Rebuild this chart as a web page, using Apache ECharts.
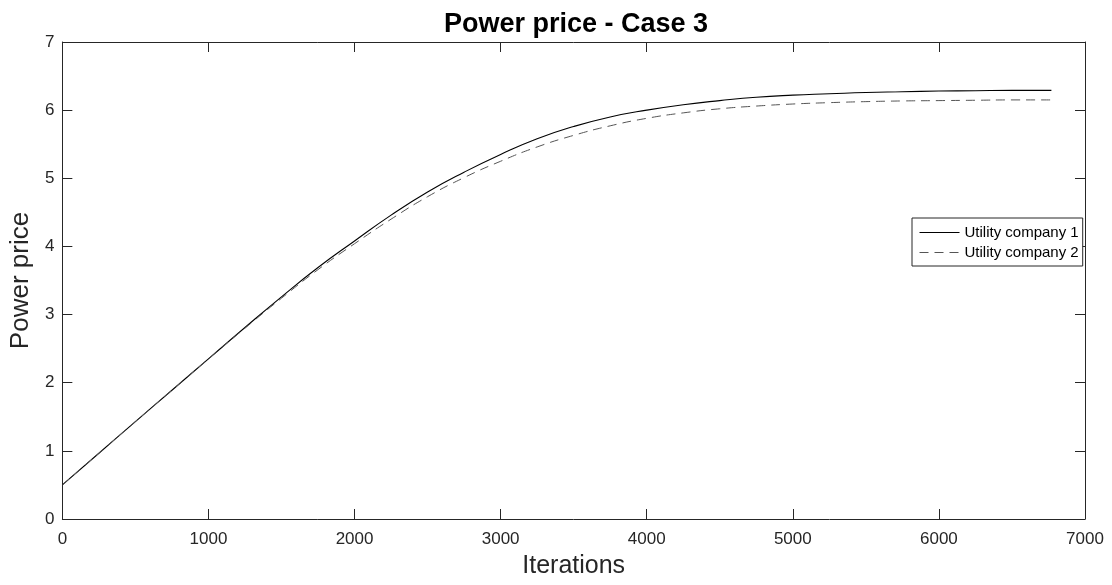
<!DOCTYPE html>
<html>
<head>
<meta charset="utf-8">
<script src="https://cdn.jsdelivr.net/npm/echarts@6/dist/echarts.min.js"></script>
<style>
html,body{margin:0;padding:0;background:#fff;}
#chart{width:1112px;height:585px;}
</style>
</head>
<body>
<div id="chart"></div>
<script>
const iterations = [0,250,500,750,1000,1250,1500,1750,2000,2250,2500,2750,3000,3250,3500,3750,4000,4250,4500,4750,5000,5250,5500,5750,6000,6250,6500,6770];
const company1 = [0.50,0.965,1.43,1.89,2.35,2.81,3.26,3.69,4.08,4.46,4.80,5.09,5.35,5.58,5.76,5.90,6.00,6.08,6.14,6.19,6.22,6.24,6.26,6.27,6.28,6.285,6.29,6.29];
const company2 = [0.50,0.965,1.43,1.89,2.35,2.80,3.24,3.66,4.04,4.40,4.73,5.01,5.25,5.46,5.63,5.77,5.88,5.96,6.02,6.06,6.09,6.11,6.125,6.135,6.14,6.145,6.15,6.15];
const xTicks = [0,1000,2000,3000,4000,5000,6000,7000];
const yTicks = [0,1,2,3,4,5,6,7];
const seriesNames = ['Utility company 1','Utility company 2'];

const chart = echarts.init(document.getElementById('chart'), null, {renderer:'canvas'});
const FONT = 'Liberation Sans, Arial, Helvetica, sans-serif';
const axisCol = '#262626';

function xAx(pos, show){
  return {
    type:'value', position:pos, min:xTicks[0], max:xTicks[xTicks.length-1], interval:1000,
    name: show ? 'Iterations' : '', nameLocation:'middle', nameGap:35,
    nameTextStyle:{fontFamily:FONT,fontSize:25,color:axisCol},
    axisLine:{show:true,onZero:false,lineStyle:{color:axisCol,width:1}},
    axisTick:{show:true,inside:true,length:10,lineStyle:{color:axisCol,width:1}},
    axisLabel:{show:show,margin:12,fontFamily:FONT,fontSize:17,color:axisCol,formatter:(v)=>String(v)},
    splitLine:{show:false}
  };
}
function yAx(pos, show){
  return {
    type:'value', position:pos, min:yTicks[0], max:yTicks[yTicks.length-1], interval:1,
    name: show ? 'Power price' : '', nameLocation:'middle', nameGap:23,
    nameTextStyle:{fontFamily:FONT,fontSize:26,color:axisCol},
    axisLine:{show:true,onZero:false,lineStyle:{color:axisCol,width:1}},
    axisTick:{show:true,inside:true,length:10,lineStyle:{color:axisCol,width:1}},
    axisLabel:{show:show,margin:8,fontFamily:FONT,fontSize:17,color:axisCol,formatter:(v)=>String(v)},
    splitLine:{show:false}
  };
}

const option = {
  backgroundColor:'#ffffff',
  animation:false,
  title:{
    text:'Power price - Case 3', left:571, top:6, textAlign:'center',
    textStyle:{fontFamily:FONT,fontSize:27,fontWeight:'bold',color:'#000'}
  },
  grid:{left:58,right:27,top:42,bottom:66,containLabel:false},
  xAxis:[xAx('bottom',true), xAx('top',false)],
  yAxis:[yAx('left',true), yAx('right',false)],
  legend:{
    orient:'vertical', left:912, top:218,
    backgroundColor:'#fff', borderColor:axisCol, borderWidth:1,
    padding:[7,4,6,7], itemGap:5, itemWidth:40, itemHeight:14,
    itemStyle:{opacity:0, borderWidth:0},
    lineStyle:{width:1},
    textStyle:{fontFamily:FONT,fontSize:15,color:'#000'},
    data:seriesNames
  },
  series:[
    {
      name:seriesNames[0], type:'line', symbol:'none', smooth:true,
      data: iterations.map((x,i)=>[x,company1[i]]),
      lineStyle:{color:'#000',width:1.1,type:'solid'},
      itemStyle:{color:'#000'}
    },
    {
      name:seriesNames[1], type:'line', symbol:'none', smooth:true,
      data: iterations.map((x,i)=>[x,company2[i]]),
      lineStyle:{color:'#555',width:1,type:[9,6]},
      itemStyle:{color:'#555'}
    }
  ]
};
chart.setOption(option);
</script>
</body>
</html>
